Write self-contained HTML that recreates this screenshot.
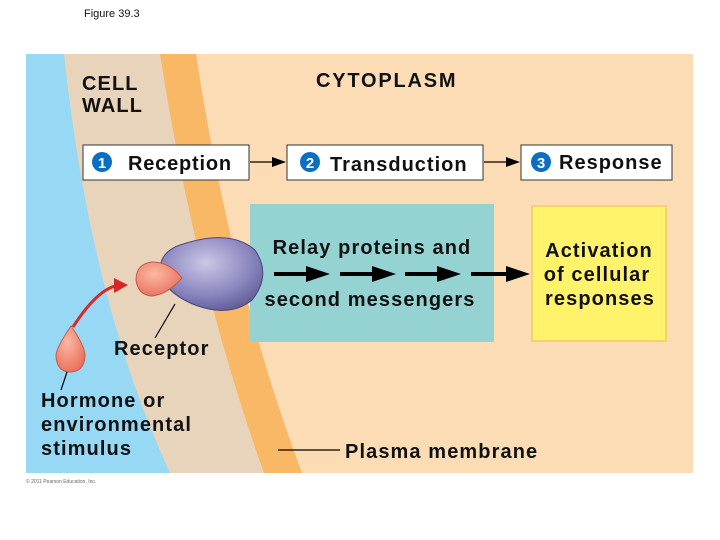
<!DOCTYPE html>
<html><head><style>
body{margin:0;background:#fff;width:720px;height:540px;overflow:hidden}
svg{display:block}
text{font-family:"Liberation Sans",Arial,sans-serif;fill:#111;font-weight:bold}
.l{font-size:20px;letter-spacing:1.1px}
</style></head><body>
<svg width="720" height="540" viewBox="0 0 720 540">
<defs>
<radialGradient id="pg" cx="0.45" cy="0.35" r="0.7"><stop offset="0" stop-color="#c9c8e6"/><stop offset="0.6" stop-color="#8c88c0"/><stop offset="1" stop-color="#5e5a94"/></radialGradient>
<radialGradient id="rg" cx="0.4" cy="0.35" r="0.7"><stop offset="0" stop-color="#fbb8a4"/><stop offset="1" stop-color="#e8705c"/></radialGradient>
</defs>
<text x="84" y="17" font-size="11" style="font-weight:normal">Figure 39.3</text>
<rect x="26" y="54" width="667" height="419" fill="#fcdcb4"/>
<path d="M26,54 L196,54 Q230,280 302,473 L26,473 Z" fill="#f9b866"/>
<path d="M26,54 L160,54 Q195,280 264,473 L26,473 Z" fill="#e8d3bb"/>
<path d="M26,54 L64,54 Q90,300 170,473 L26,473 Z" fill="#97d8f5"/>
<text x="82" y="90" class="l">CELL</text>
<text x="82" y="112" class="l">WALL</text>
<text x="316" y="87" class="l" style="letter-spacing:1.8px">CYTOPLASM</text>
<rect x="83" y="145" width="166" height="35" fill="#fff" stroke="#333"/>
<circle cx="102" cy="162" r="10" fill="#0a6fc2"/><text x="102" y="168" font-size="15" text-anchor="middle" style="fill:#fff">1</text>
<text x="128" y="170" font-size="20" style="letter-spacing:0.8px">Reception</text>
<rect x="287" y="145" width="196" height="35" fill="#fff" stroke="#333"/>
<circle cx="310" cy="162" r="10" fill="#0a6fc2"/><text x="310" y="168" font-size="15" text-anchor="middle" style="fill:#fff">2</text>
<text x="330" y="171" font-size="20" style="letter-spacing:1px">Transduction</text>
<rect x="521" y="145" width="151" height="35" fill="#fff" stroke="#333"/>
<circle cx="541" cy="162" r="10" fill="#0a6fc2"/><text x="541" y="168" font-size="15" text-anchor="middle" style="fill:#fff">3</text>
<text x="559" y="169" font-size="20" style="letter-spacing:1px">Response</text>
<line x1="250" y1="162" x2="276" y2="162" stroke="#000" stroke-width="1.3"/>
<path d="M272,157 L286,162 L272,167 Z" fill="#000"/>
<line x1="484" y1="162" x2="510" y2="162" stroke="#000" stroke-width="1.3"/>
<path d="M506,157 L520,162 L506,167 Z" fill="#000"/>
<rect x="250" y="204" width="244" height="138" fill="#95d3d3"/>
<rect x="532" y="206" width="134" height="135" fill="#fff36b" stroke="#f5d36a" stroke-width="2"/>
<text x="372" y="254" class="l" text-anchor="middle">Relay proteins and</text>
<text x="370" y="306" class="l" text-anchor="middle">second messengers</text>
<text x="599" y="257" class="l" text-anchor="middle">Activation</text>
<text x="597" y="281" class="l" text-anchor="middle">of cellular</text>
<text x="600" y="305" class="l" text-anchor="middle">responses</text>
<g stroke="#000" stroke-width="4">
<line x1="274" y1="274" x2="316" y2="274"/><line x1="340" y1="274" x2="382" y2="274"/><line x1="405" y1="274" x2="447" y2="274"/><line x1="471" y1="274" x2="510" y2="274"/></g>
<g fill="#000"><path d="M306,266 L330,274 L306,282 Z"/><path d="M372,266 L396,274 L372,282 Z"/><path d="M437,266 L461,274 L437,282 Z"/><path d="M506,266 L530,274 L506,282 Z"/></g>
<path d="M180,245 Q230,228 255,250 Q272,275 252,300 Q230,318 195,305 Q163,292 160,270 Q160,252 180,245 Z" fill="url(#pg)" stroke="#4a4780"/>
<path d="M182,278 Q170,262 152,262 Q136,264 136,280 Q138,295 152,296 Q168,294 182,278 Z" fill="url(#rg)" stroke="#c85a48"/>
<path d="M73,327 Q100,285 122,285" fill="none" stroke="#d62828" stroke-width="3"/>
<path d="M114,278 L128,285 L114,293 Z" fill="#d62828"/>
<path d="M71,326 Q56,348 56,356 Q57,372 70,372 Q84,372 85,356 Q85,346 71,326 Z" fill="url(#rg)" stroke="#c85a48"/>
<line x1="175" y1="304" x2="155" y2="338" stroke="#000" stroke-width="1.2"/>
<line x1="67" y1="372" x2="61" y2="390" stroke="#000" stroke-width="1.2"/>
<text x="114" y="355" class="l">Receptor</text>
<text x="41" y="407" class="l">Hormone or</text>
<text x="41" y="431" class="l">environmental</text>
<text x="41" y="455" class="l">stimulus</text>
<line x1="278" y1="450" x2="340" y2="450" stroke="#000" stroke-width="1.2"/>
<text x="345" y="458" class="l">Plasma membrane</text>
<text x="26" y="483" font-size="5" style="fill:#666;font-weight:normal">© 2011 Pearson Education, Inc.</text>
</svg>
</body></html>
